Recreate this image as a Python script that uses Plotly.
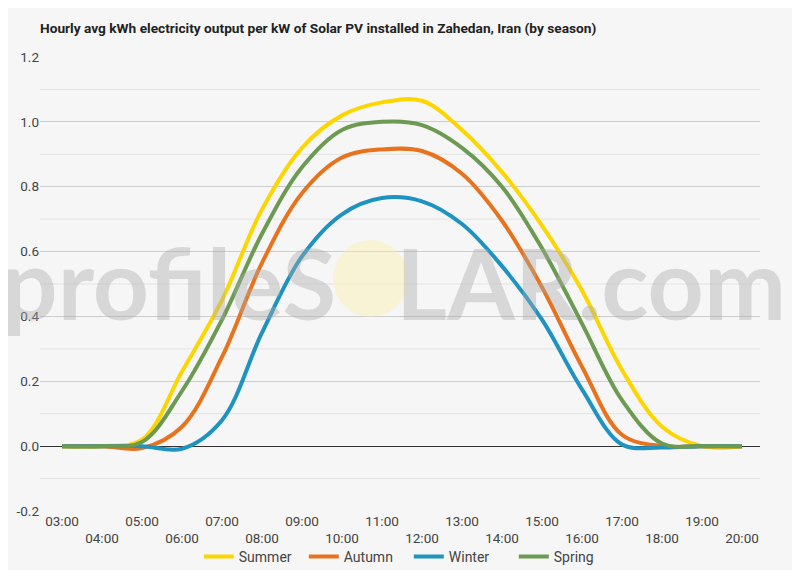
import plotly.graph_objects as go

# Hours shown on the category axis
hours = ["03:00", "04:00", "05:00", "06:00", "07:00", "08:00", "09:00", "10:00", "11:00",
         "12:00", "13:00", "14:00", "15:00", "16:00", "17:00", "18:00", "19:00", "20:00"]

# Average kWh per kW installed
summer = [0.0, 0.0, 0.02, 0.23, 0.45, 0.73, 0.92, 1.02, 1.06, 1.065, 0.975, 0.845, 0.68, 0.48, 0.235, 0.06, 0.0, 0.0]
autumn = [0.0, 0.0, -0.006, 0.06, 0.275, 0.565, 0.78, 0.89, 0.915, 0.91, 0.84, 0.695, 0.49, 0.245, 0.035, 0.0, 0.0, 0.0]
winter = [0.0, 0.0, 0.0, -0.008, 0.08, 0.35, 0.585, 0.715, 0.765, 0.755, 0.685, 0.555, 0.39, 0.175, 0.005, -0.004, 0.0, 0.0]
spring = [0.0, 0.0, 0.013, 0.17, 0.39, 0.655, 0.86, 0.975, 1.0, 0.99, 0.92, 0.8, 0.61, 0.378, 0.142, 0.008, 0.0, 0.0]

series = [("Summer", summer, "#FDD600"),
          ("Autumn", autumn, "#E8731E"),
          ("Winter", winter, "#1E93C2"),
          ("Spring", spring, "#6D9A52")]

x = list(range(len(hours)))
# alternate the labels over two rows
tick_labels = [h if i % 2 == 0 else "<br>" + h for i, h in enumerate(hours)]

fig = go.Figure()

for name, vals, color in series:
    fig.add_trace(go.Scatter(
        x=x, y=vals, name=name, mode="lines",
        line=dict(color=color, width=4, shape="spline", smoothing=1.0),
        cliponaxis=False
    ))

# minor gridlines at the odd tenths
for v in [-0.1, 0.1, 0.3, 0.5, 0.7, 0.9, 1.1]:
    fig.add_hline(y=v, line=dict(color="#e3e3e3", width=1), layer="below")

# profileSOLAR watermark (plot area is 720 x 454 px)
wm_font = dict(family="Lato", size=98, weight="bold", color="rgba(170,170,170,0.4)")
fig.add_shape(type="circle", xref="paper", yref="paper",
              x0=(333 - 40) / 720, x1=(408 - 40) / 720,
              y0=(511 - 317) / 454, y1=(511 - 240) / 454,
              fillcolor="rgba(250,240,170,0.45)", line=dict(width=0), layer="above")
fig.add_annotation(text="profileS", xref="paper", yref="paper",
                   x=(338 - 40) / 720, y=(511 - 282) / 454, xanchor="right", yanchor="middle",
                   showarrow=False, font=wm_font)
fig.add_annotation(text="LAR.com", xref="paper", yref="paper",
                   x=(394 - 40) / 720, y=(511 - 282) / 454, xanchor="left", yanchor="middle",
                   showarrow=False, font=wm_font)

fig.update_layout(
    width=800, height=570,
    paper_bgcolor="#f6f6f6", plot_bgcolor="#f6f6f6",
    margin=dict(l=32, r=48, t=49, b=67),
    font=dict(family="Roboto", size=13, color="#444444"),
    title=dict(text="<b>Hourly avg kWh electricity output per kW of Solar PV installed in Zahedan, Iran (by season)</b>",
               x=0.04, xanchor="left", y=0.965, yanchor="middle",
               font=dict(family="Roboto", size=13.7, color="#222222")),
    legend=dict(orientation="h", x=0.501, xanchor="center", xref="container",
                y=1 - 549 / 570, yanchor="middle", yref="container",
                font=dict(size=14, color="#444444"), bgcolor="rgba(0,0,0,0)",
                itemwidth=30, tracegroupgap=0, entrywidth=60),
    showlegend=True
)

fig.update_xaxes(range=[-0.55, 17.45], tickmode="array", tickvals=x, ticktext=tick_labels,
                 showgrid=False, zeroline=False, showline=False, ticks="", automargin=False,
                 tickfont=dict(size=13.5, color="#444444"))
fig.update_yaxes(range=[-0.2, 1.2], tickmode="array", tickvals=[-0.2, 0, 0.2, 0.4, 0.6, 0.8, 1.0, 1.2],
                 ticktext=["-0.2", "0.0", "0.2", "0.4", "0.6", "0.8", "1.0", "1.2"],
                 showgrid=True, gridcolor="#cccccc", gridwidth=1, automargin=False,
                 zeroline=True, zerolinecolor="#333333", zerolinewidth=1,
                 tickfont=dict(size=13.5, color="#444444"))

fig.write_html("out.html")
